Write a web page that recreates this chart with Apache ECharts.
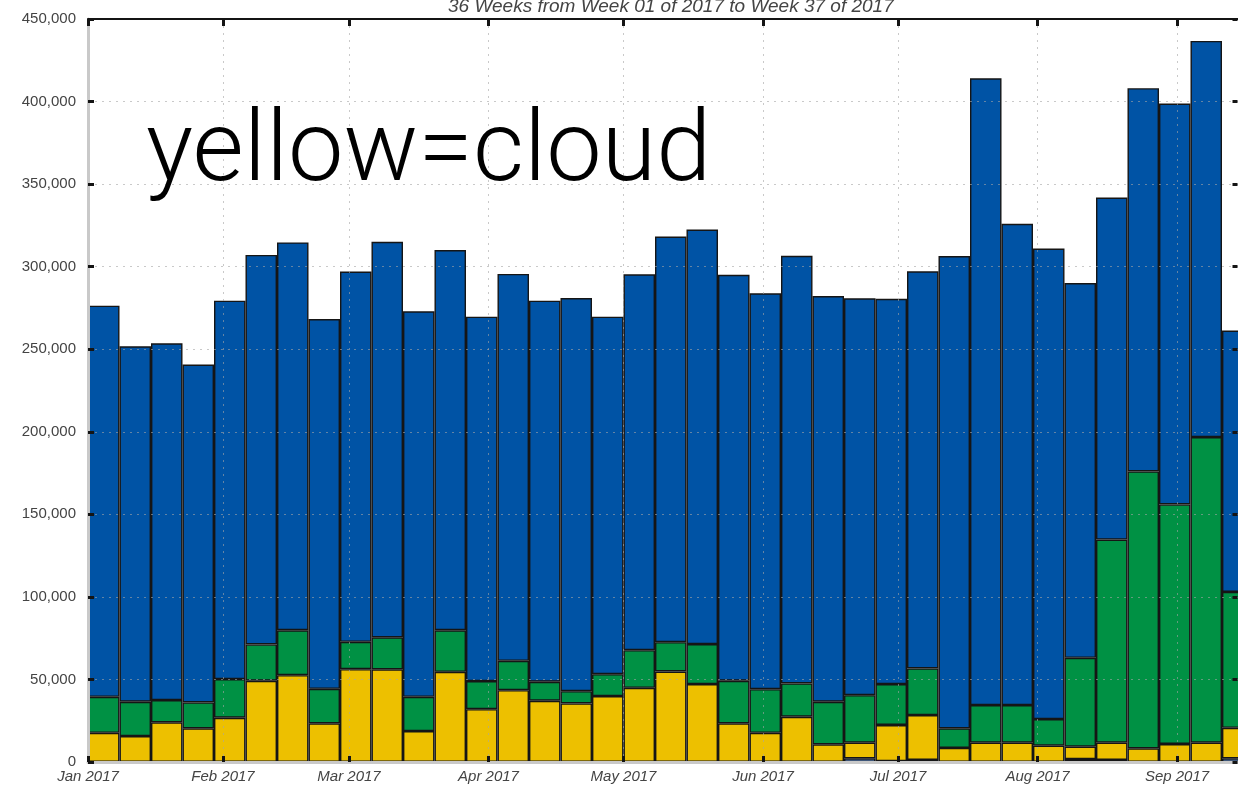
<!DOCTYPE html>
<html>
<head>
<meta charset="utf-8">
<script src="https://cdn.jsdelivr.net/npm/echarts@6/dist/echarts.min.js"></script>
<style>
html,body{margin:0;padding:0;background:#fff;}
#c{width:1238px;height:789px;}
</style>
</head>
<body>
<div id="c"></div>
<script>
// ---- data ----
const weeks = ['W01','W02','W03','W04','W05','W06','W07','W08','W09','W10','W11','W12','W13','W14','W15','W16','W17','W18','W19','W20','W21','W22','W23','W24','W25','W26','W27','W28','W29','W30','W31','W32','W33','W34','W35','W36','W37'];
// bottom (light blue) segment
const otherVals = [0,0,0,0,0,0,0,0,0,0,0,0,0,0,0,0,0,0,0,0,0,0,0,0,2200,500,1200,0,0,0,0,1800,1200,0,0,0,2200];
// yellow = cloud
const cloudVals = [17700,15700,24000,20400,26800,49200,52600,23400,56200,56100,18700,54600,32000,43500,37100,35500,39900,44900,54800,47200,23400,17700,27400,10700,9500,21900,27200,8500,11700,11700,9900,7500,10500,8300,10900,11700,18500];
// green
const greenVals = [21800,20800,13500,15700,23400,22000,27200,20900,16600,19400,20800,25200,17000,17800,11500,7400,13300,22800,17800,24200,25800,26400,20200,25800,28800,24800,28300,11900,22800,22800,16100,53800,123000,167700,145100,185100,82300];
// blue (top)
const blueVals = [236900,215300,216100,204600,229200,235900,234900,224000,224200,239600,233500,230300,220700,234300,230800,238100,216500,227700,245600,251100,245900,239800,259000,245700,240300,233300,240500,286000,379600,291500,285000,227000,207200,232100,242800,239900,158300];

const monthLabels = ['Jan 2017','Feb 2017','Mar 2017','Apr 2017','May 2017','Jun 2017','Jul 2017','Aug 2017','Sep 2017'];
const monthDays = [0,30,58,89,119,150,180,211,242]; // days after Mon 2 Jan 2017 (axis start)
const axisDays = 259; // 37 weeks
const yMax = 450000, yStep = 50000;
const titleText = '36 Weeks from Week 01 of 2017 to Week 37 of 2017';
const noteText = 'yellow=cloud';

// ---- chart ----
const chart = echarts.init(document.getElementById('c'), null, {renderer:'canvas'});
const AXG = '#c9c9c9';
const TICK = '#141414';
const GRIDC = 'rgba(165,165,165,0.6)';
function fmt(v){ return String(v).replace(/\B(?=(\d{3})+(?!\d))/g, ','); }
function seg(name, data, color){
  return {
    name, type:'bar', stack:'total', data,
    xAxisIndex:0, yAxisIndex:0,
    barWidth:'100%', barCategoryGap:0,
    itemStyle:{color, borderColor:'#151515', borderWidth:1.4},
    emphasis:{disabled:true}, silent:true, z:2
  };
}
const option = {
  animation:false,
  backgroundColor:'#ffffff',
  title:{
    text:titleText, left:443, top:-8,
    textStyle:{fontSize:19, fontStyle:'italic', fontWeight:'normal', color:'#444', fontFamily:'Liberation Sans'}
  },
  grid:{left:88, top:19, bottom:27, width:1165.5, containLabel:false, outerBoundsMode:'none'},
  xAxis:[
    {type:'category', data:weeks, boundaryGap:true, show:false, position:'bottom'},
    {type:'value', min:0, max:axisDays, position:'bottom', z:5,
      axisLine:{show:true, onZero:false, lineStyle:{color:AXG, width:3}},
      axisTick:{show:true, inside:true, length:6, customValues:monthDays, lineStyle:{color:TICK, width:3}},
      axisLabel:{show:true, customValues:monthDays, margin:7,
        formatter:function(v){ const i = monthDays.indexOf(v); return i>=0 ? monthLabels[i] : ''; },
        fontSize:15, fontStyle:'italic', color:'#444', fontFamily:'Liberation Sans'},
      splitLine:{show:true, lineStyle:{color:GRIDC, width:1, type:[2,5]}}
    },
    {type:'value', min:0, max:axisDays, position:'top', z:5,
      axisLine:{show:true, onZero:false, lineStyle:{color:TICK, width:2}},
      axisTick:{show:true, inside:true, length:7, customValues:monthDays, lineStyle:{color:TICK, width:3}},
      axisLabel:{show:false},
      splitLine:{show:false}
    }
  ],
  yAxis:[
    {type:'value', min:0, max:yMax, interval:yStep, position:'left', z:5,
      axisLine:{show:true, onZero:false, lineStyle:{color:AXG, width:3}},
      axisTick:{show:true, inside:true, length:6, lineStyle:{color:TICK, width:3}},
      axisLabel:{show:true, margin:12, formatter:fmt, fontSize:15, color:'#444', fontFamily:'Liberation Sans'},
      splitLine:{show:true, lineStyle:{color:GRIDC, width:1, type:[2,5]}}
    },
    {type:'value', min:0, max:yMax, interval:yStep, position:'right', offset:-16, z:5,
      axisLine:{show:false, onZero:false},
      axisTick:{show:true, inside:true, length:5, lineStyle:{color:TICK, width:3}},
      axisLabel:{show:false},
      splitLine:{show:false}
    }
  ],
  series:[
    seg('other', otherVals, '#6a9ae0'),
    seg('cloud', cloudVals, '#edc000'),
    seg('green', greenVals, '#009144'),
    seg('blue', blueVals, '#0053a5')
  ],
  graphic:[
    {type:'text', x:146, y:151, z:100,
      style:{text:noteText, fontSize:99, fontFamily:'"Roboto Light", Roboto', fontWeight:300, fill:'#000', align:'left', verticalAlign:'middle'}}
  ]
};
chart.setOption(option);
</script>
</body>
</html>
